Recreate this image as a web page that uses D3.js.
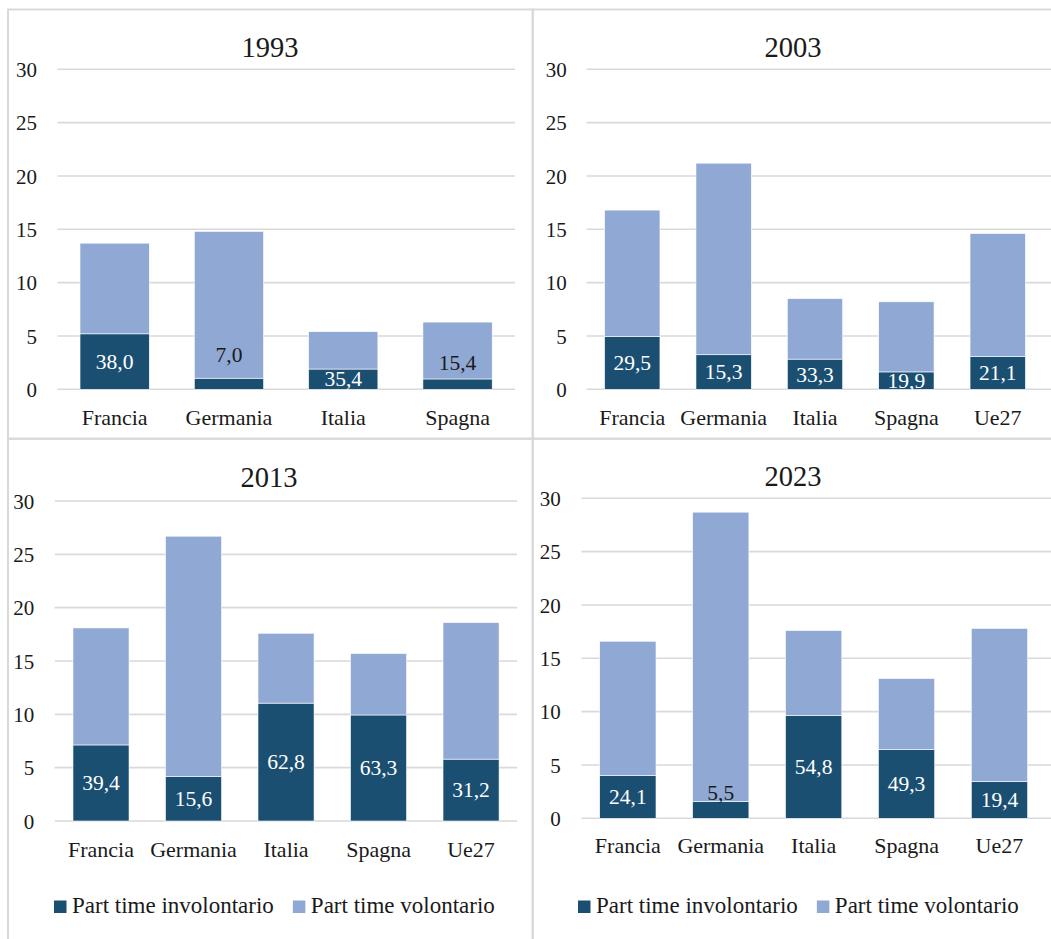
<!DOCTYPE html>
<html><head><meta charset="utf-8">
<script src="https://cdn.jsdelivr.net/npm/d3@7"></script>
<style>body{margin:0;background:#fff}svg{display:block}</style>
</head><body>
<svg id="chart" width="1051" height="939"></svg>
<script>
// ---------- data ----------
const years = ["1993", "2003", "2013", "2023"];
const categories1993 = ["Francia", "Germania", "Italia", "Spagna"];
const categories = ["Francia", "Germania", "Italia", "Spagna", "Ue27"];
const seriesNames = ["Part time involontario", "Part time volontario"];

const involontario1993 = [5.2, 1.04, 1.9, 0.97];
const volontario1993   = [8.5, 13.76, 3.5, 5.33];
const labels1993       = ["38,0", "7,0", "35,4", "15,4"];

const involontario2003 = [4.95, 3.24, 2.83, 1.63, 3.08];
const volontario2003   = [11.85, 17.96, 5.67, 6.57, 11.52];
const labels2003       = ["29,5", "15,3", "33,3", "19,9", "21,1"];

const involontario2013 = [7.13, 4.17, 11.05, 9.94, 5.8];
const volontario2013   = [10.97, 22.53, 6.55, 5.76, 12.8];
const labels2013       = ["39,4", "15,6", "62,8", "63,3", "31,2"];

const involontario2023 = [4.0, 1.58, 9.64, 6.46, 3.45];
const volontario2023   = [12.6, 27.12, 7.96, 6.64, 14.35];
const labels2023       = ["24,1", "5,5", "54,8", "49,3", "19,4"];

const yTicks = [0, 5, 10, 15, 20, 25, 30];

// ---------- layout & style ----------
const colors = ["#1B4F72", "#8FA8D4"];
const FONT = "'Liberation Serif', 'Times New Roman', serif";
const TEXT = "#1a1a1a";
const GRID = "#d9d9d9";

const layout = {
  "1993": {box: [8, 9.5, 532.7, 438.7], x: [57.5, 514.7], gridEnd: 515, y: [389.3, 69.3], tickX: 37, title: [270, 57], catDy: 36, legend: null},
  "2003": {box: [532.7, 9.5, 1070, 438.7], x: [586.6, 1043.4], gridEnd: 1070, y: [389.3, 69.3], tickX: 566.7, title: [793, 57], catDy: 36, legend: null},
  "2013": {box: [8, 438.7, 532.7, 980], x: [54.75, 517.3], gridEnd: 517, y: [821, 501], tickX: 34.3, title: [269, 486.5], catDy: 36, legend: [54, 913]},
  "2023": {box: [532.7, 438.7, 1070, 980], x: [581.4, 1045.9], gridEnd: 1070, y: [818.3, 498.3], tickX: 560.7, title: [793, 486], catDy: 35, legend: [578, 913]}
};
// labels lifted above too-thin segments (px above segment top, label centre)
const labelLift = {"1993|Germania": 24, "1993|Spagna": 16, "2023|Germania": 9};

const panelData = {
  "1993": {cats: categories1993, inv: involontario1993, vol: volontario1993, lab: labels1993},
  "2003": {cats: categories, inv: involontario2003, vol: volontario2003, lab: labels2003},
  "2013": {cats: categories, inv: involontario2013, vol: volontario2013, lab: labels2013},
  "2023": {cats: categories, inv: involontario2023, vol: volontario2023, lab: labels2023}
};

const svg = d3.select("#chart");
svg.append("rect").attr("width", 1051).attr("height", 939).attr("fill", "#fff");

years.forEach(year => {
  const L = layout[year];
  const D = panelData[year];
  const g = svg.append("g");

  // panel border
  g.append("rect")
    .attr("x", L.box[0]).attr("y", L.box[1])
    .attr("width", L.box[2] - L.box[0]).attr("height", L.box[3] - L.box[1])
    .attr("fill", "none").attr("stroke", GRID).attr("stroke-width", 2);

  const x = d3.scaleBand().domain(D.cats).range(L.x).paddingInner(0.394).paddingOuter(0.197);
  const y = d3.scaleLinear().domain([0, 30]).range(L.y);

  // gridlines
  g.selectAll("line.grid").data(yTicks).join("line")
    .attr("class", "grid")
    .attr("x1", L.x[0]).attr("x2", L.gridEnd)
    .attr("y1", d => y(d)).attr("y2", d => y(d))
    .attr("stroke", GRID).attr("stroke-width", 1.6);

  // y axis labels
  const yAxis = d3.axisLeft(y).tickValues(yTicks).tickSize(0).tickPadding(0).tickFormat(d3.format("d"));
  const ya = g.append("g").attr("transform", `translate(${L.tickX},0)`).call(yAxis)
    .attr("font-family", FONT);
  ya.select(".domain").remove();
  ya.selectAll("text").attr("font-family", FONT).attr("font-size", 21).attr("fill", TEXT).attr("dy", "0.34em");

  // stacked bars
  const rows = D.cats.map((c, i) => ({cat: c, inv: D.inv[i], vol: D.vol[i], lab: D.lab[i]}));
  const stack = d3.stack().keys(["inv", "vol"])(rows);
  stack.forEach((layer, si) => {
    g.selectAll(null).data(layer).join("rect")
      .attr("x", d => x(d.data.cat))
      .attr("width", x.bandwidth())
      .attr("y", d => y(d[1]))
      .attr("height", d => y(d[0]) - y(d[1]))
      .attr("fill", colors[si])
      .attr("stroke", "#fff").attr("stroke-width", 0.6);
  });

  // data labels
  g.selectAll(null).data(rows).join("text")
    .attr("x", d => x(d.cat) + x.bandwidth() / 2)
    .attr("y", d => {
      const lift = labelLift[year + "|" + d.cat];
      if (lift !== undefined) return y(d.inv) - lift;
      return (y(0) + y(d.inv)) / 2;
    })
    .attr("dy", "0.34em")
    .attr("text-anchor", "middle")
    .attr("font-family", FONT).attr("font-size", 21.5)
    .attr("fill", d => labelLift[year + "|" + d.cat] !== undefined ? TEXT : "#fff")
    .text(d => d.lab);

  // category axis
  const xAxis = d3.axisBottom(x).tickSize(0).tickPadding(0);
  const xa = g.append("g").attr("transform", `translate(0,${y(0) + L.catDy})`).call(xAxis)
    .attr("font-family", FONT);
  xa.select(".domain").remove();
  xa.selectAll("text").attr("font-family", FONT).attr("font-size", 22).attr("fill", TEXT).attr("dy", 0);

  // title
  g.append("text").attr("x", L.title[0]).attr("y", L.title[1])
    .attr("text-anchor", "middle").attr("font-family", FONT).attr("font-size", 28.5).attr("fill", TEXT)
    .text(year);

  // legend
  if (L.legend) {
    let lx = L.legend[0];
    const ly = L.legend[1];
    seriesNames.forEach((name, i) => {
      g.append("rect").attr("x", lx).attr("y", ly - 12.5).attr("width", 12.5).attr("height", 12.5).attr("fill", colors[i]);
      const t = g.append("text").attr("x", lx + 18).attr("y", ly)
        .attr("font-family", FONT).attr("font-size", 23).attr("fill", TEXT).text(name);
      lx = lx + 18 + t.node().getComputedTextLength() + 19;
    });
  }
});
</script>
</body></html>
